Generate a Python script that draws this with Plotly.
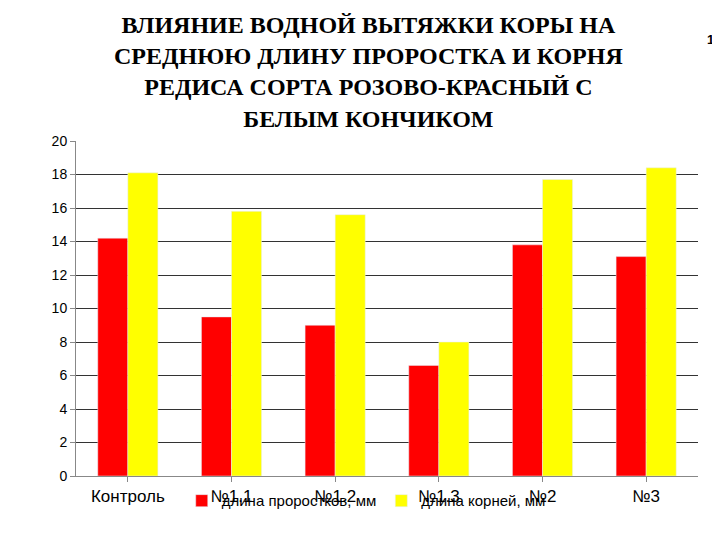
import plotly.graph_objects as go

categories = ["Контроль", "№1.1", "№1.2", "№1.3", "№2", "№3"]
shoots = [14.2, 9.5, 9.0, 6.6, 13.8, 13.1]
roots = [18.1, 15.8, 15.6, 8.0, 17.7, 18.4]

fig = go.Figure()
fig.add_bar(x=categories, y=shoots, name="длина проростков, мм", marker_color="#FF0000")
fig.add_bar(x=categories, y=roots, name="длина корней, мм", marker_color="#FFFF00")
fig.update_layout(
    width=720, height=540, paper_bgcolor="white", plot_bgcolor="white",
    margin=dict(l=68, r=30, t=133, b=72),
    bargap=0.42, bargroupgap=0,
    font=dict(family="Liberation Sans", color="black"),
    legend=dict(orientation="h", x=0.17, y=-0.025, xanchor="left", yanchor="top",
                font=dict(size=15), bgcolor="rgba(0,0,0,0)"),
    xaxis=dict(showline=True, linecolor="#888", ticks="outside", tickcolor="#888",
               tickfont=dict(size=17), ticklen=5),
    yaxis=dict(range=[0, 20], dtick=2, showgrid=True, gridcolor="#333", gridwidth=1,
               showline=True, linecolor="#888", ticks="outside", tickcolor="#888",
               tickfont=dict(size=14), zeroline=False),
)
fig.add_annotation(
    text="<b>ВЛИЯНИЕ ВОДНОЙ ВЫТЯЖКИ КОРЫ НА<br>СРЕДНЮЮ ДЛИНУ ПРОРОСТКА И КОРНЯ<br>РЕДИСА СОРТА РОЗОВО-КРАСНЫЙ С<br>БЕЛЫМ КОНЧИКОМ</b>",
    xref="paper", yref="paper", x=0.47, y=1.39, xanchor="center", yanchor="top",
    showarrow=False, align="center",
    font=dict(family="Liberation Serif", size=24, color="black"))
fig.add_annotation(text="<b>13</b>", xref="paper", yref="paper", x=1.04, y=1.33,
                   showarrow=False, font=dict(size=13))
fig.write_html("out.html")
